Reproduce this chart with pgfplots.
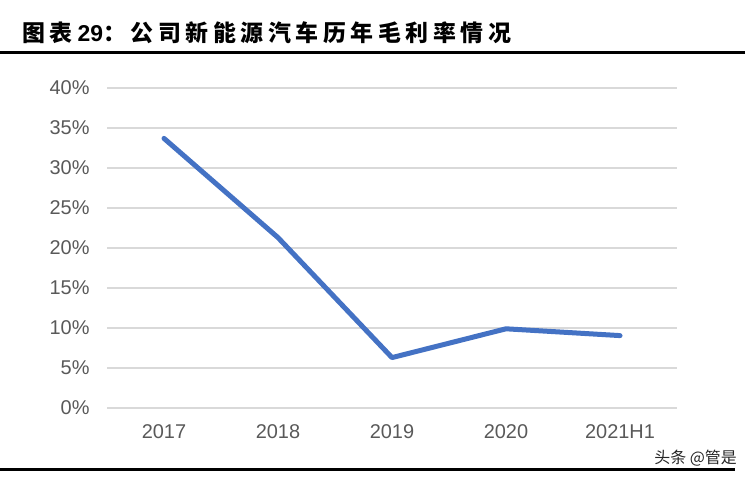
\documentclass[border=0pt]{standalone}
\usepackage{fontspec}
\setmainfont{Liberation Sans}
\newfontfamily\cjk{Noto Sans CJK SC}
\newfontfamily\cjkt{Noto Sans CJK SC}[LetterSpace=20]
\usepackage{pgfplots}
\pgfplotsset{compat=1.18}
\definecolor{lineblue}{HTML}{4472C4}
\definecolor{gridgray}{HTML}{D9D9D9}
\definecolor{txtgray}{HTML}{595959}
\begin{document}
\begin{tikzpicture}
\path[use as bounding box] (0bp,0bp) rectangle (750bp,483bp);
\node[anchor=west, inner sep=0pt] at (22bp,450bp) {\fontsize{23}{23}\selectfont\cjkt\bfseries 图表\hspace{5bp}{\fontspec{Liberation Sans}\bfseries 29}：公司新能源汽车历年毛利率情况};
\draw[line width=3bp] (0bp,430bp) -- (745bp,430bp);
\draw[line width=3bp] (0bp,13bp) -- (735bp,13bp);
\node[anchor=east, inner sep=0pt, text=black!85] at (737bp,25bp) {\fontsize{16}{16}\selectfont\cjk 头条 @管是};
\begin{axis}[
  at={(107bp,75bp)}, anchor=south west, scale only axis,
  width=570bp, height=320bp,
  xmin=-0.5, xmax=4.5, ymin=0, ymax=40,
  ytick={0,5,...,40},
  yticklabel={\pgfmathprintnumber{\tick}\%},
  /pgf/number format/assume math mode=true,
  xtick={0,1,2,3,4},
  xticklabels={2017,2018,2019,2020,2021H1},
  axis line style={draw=none},
  major tick length=0pt,
  ymajorgrids,
  grid style={gridgray, line width=1.5bp},
  tick label style={font=\fontsize{20}{20}\selectfont, text=txtgray},
  yticklabel style={anchor=east, xshift=-14bp},
  xticklabel style={anchor=north, yshift=-13bp},
  clip=false,
]
\addplot[lineblue, line width=5bp, line cap=round, line join=round] coordinates {(0,33.7)(1,21.3)(2,6.3)(3,9.9)(4,9.05)};
\end{axis}
\end{tikzpicture}
\end{document}
